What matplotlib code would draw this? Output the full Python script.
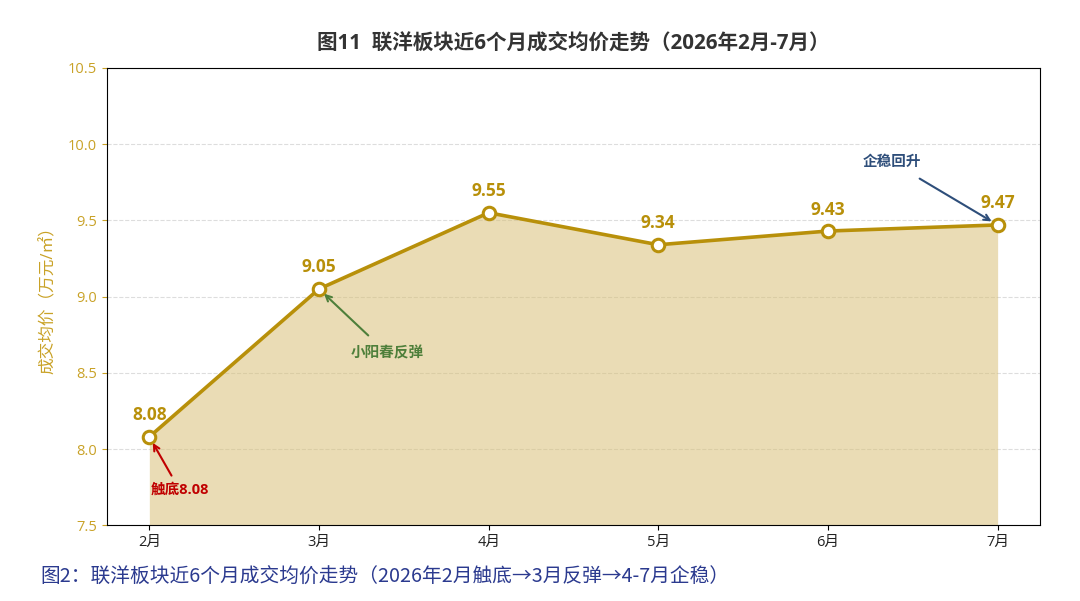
import matplotlib
matplotlib.use("Agg")
import matplotlib.pyplot as plt

plt.rcParams['font.family'] = ['Open Sans', 'Noto Sans CJK SC', 'DejaVu Sans']
plt.rcParams['axes.unicode_minus'] = False

months = ["2月", "3月", "4月", "5月", "6月", "7月"]
prices = [8.08, 9.05, 9.55, 9.34, 9.43, 9.47]
yticks = [7.5, 8.0, 8.5, 9.0, 9.5, 10.0, 10.5]

title = "图11  联洋板块近6个月成交均价走势（2026年2月-7月）"
ylabel = "成交均价（万元/㎡）"
caption = "图2：联洋板块近6个月成交均价走势（2026年2月触底→3月反弹→4-7月企稳）"

ann_texts = ["触底8.08", "小阳春反弹", "企稳回升"]
ann_idx = [0, 1, 5]

line_c = "#B8900A"
fill_c = "#D9C078"
tick_c = "#C9A227"

fig = plt.figure(figsize=(10.8, 6.01), dpi=100)
ax = fig.add_axes([0.099, 0.126, 0.864, 0.761])

x = list(range(len(months)))
ax.fill_between(x, prices, 7.5, color=fill_c, alpha=0.55, linewidth=0, zorder=1)
ax.plot(x, prices, color=line_c, linewidth=2.6, marker='o', markersize=9,
        markerfacecolor='white', markeredgecolor=line_c, markeredgewidth=2.2, zorder=3)

for xi, v in zip(x, prices):
    ax.annotate(f"{v:.2f}", (xi, v), xytext=(0, 9), textcoords='offset points',
                ha='center', va='bottom', fontsize=12.5, fontweight='bold', color=line_c)

ax.set_xlim(-0.25, 5.25)
ax.set_ylim(7.5, 10.5)
ax.set_yticks(yticks)
ax.set_yticklabels([f"{t:.1f}" for t in yticks])
ax.set_xticks(x)
ax.set_xticklabels(months)
ax.tick_params(axis='y', colors=tick_c, labelsize=10.5)
ax.tick_params(axis='x', labelsize=10.5, labelcolor='#222222')
ax.yaxis.grid(True, linestyle='--', color='#DDDDDD', linewidth=0.8)
ax.set_axisbelow(True)
ax.set_ylabel(ylabel, color=tick_c, fontsize=12, labelpad=8)
ax.set_title(title, fontsize=14.8, fontweight='bold', color='#333333', pad=13)

# annotations
ax.annotate(ann_texts[0], xy=(ann_idx[0], prices[ann_idx[0]]), xytext=(0.18, 7.73),
            ha='center', va='center', fontsize=10.5, fontweight='bold', color='#C00000',
            arrowprops=dict(arrowstyle='->', color='#C00000', lw=1.5, shrinkA=4, shrinkB=5))
ax.annotate(ann_texts[1], xy=(ann_idx[1], prices[ann_idx[1]]), xytext=(1.4, 8.63),
            ha='center', va='center', fontsize=10.5, fontweight='bold', color='#4E7F3A',
            arrowprops=dict(arrowstyle='->', color='#4E7F3A', lw=1.5, shrinkA=8, shrinkB=5))
ax.annotate(ann_texts[2], xy=(ann_idx[2], prices[ann_idx[2]]), xytext=(4.38, 9.88),
            ha='center', va='center', fontsize=10.5, fontweight='bold', color='#2E4E7A',
            arrowprops=dict(arrowstyle='->', color='#2E4E7A', lw=1.5, shrinkA=9, shrinkB=5))

fig.text(0.037, 0.04, caption, fontsize=14.2, color='#2B3A8F', ha='left', va='center',
         family=['Noto Sans CJK SC', 'DejaVu Sans'])

fig.savefig("out.png", dpi=100)
